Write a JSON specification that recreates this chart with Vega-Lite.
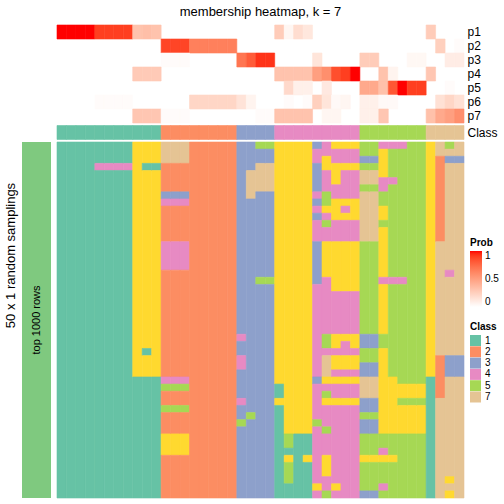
{
"$schema":"https://vega.github.io/schema/vega-lite/v6.json",
"background":"white",
"padding":{"left":4,"top":5,"right":0,"bottom":0},
"config":{"view":{"stroke":null},"font":"Liberation Sans","axis":{"labelColor":"black","titleColor":"black"},"legend":{"labelColor":"black","titleColor":"black"}},
"columns":2,
"spacing":{"row":2.5,"column":6},
"bounds":"flush",
"resolve":{"scale":{"color":"independent","stroke":"independent","x":"independent","y":"independent"},"legend":{"color":"independent","stroke":"independent"}},
"datasets":{
"prob":[
{"s":0,"p":"p1","v":1},{"s":1,"p":"p1","v":1},{"s":2,"p":"p1","v":1},{"s":3,"p":"p1","v":1},
{"s":4,"p":"p1","v":0.9},{"s":5,"p":"p1","v":0.9},{"s":6,"p":"p1","v":0.9},{"s":7,"p":"p1","v":0.9},
{"s":8,"p":"p1","v":0.32},{"s":9,"p":"p1","v":0.34},{"s":10,"p":"p1","v":0.32},
{"s":23,"p":"p1","v":0.27},{"s":24,"p":"p1","v":0.05},{"s":25,"p":"p1","v":0.18},{"s":26,"p":"p1","v":0.13},{"s":39,"p":"p1","v":0.27},
{"s":11,"p":"p2","v":0.88},{"s":12,"p":"p2","v":0.88},{"s":13,"p":"p2","v":0.88},
{"s":14,"p":"p2","v":0.65},{"s":15,"p":"p2","v":0.65},{"s":16,"p":"p2","v":0.65},{"s":17,"p":"p2","v":0.65},{"s":18,"p":"p2","v":0.65},
{"s":40,"p":"p2","v":0.25},{"s":42,"p":"p2","v":0.02},
{"s":11,"p":"p3","v":0.02},{"s":12,"p":"p3","v":0.02},{"s":13,"p":"p3","v":0.02},
{"s":19,"p":"p3","v":0.7},{"s":20,"p":"p3","v":0.8},{"s":21,"p":"p3","v":0.93},{"s":22,"p":"p3","v":0.93},
{"s":27,"p":"p3","v":0.14},{"s":32,"p":"p3","v":0.27},{"s":33,"p":"p3","v":0.27},{"s":37,"p":"p3","v":0.04},{"s":38,"p":"p3","v":0.04},
{"s":41,"p":"p3","v":0.1},{"s":42,"p":"p3","v":0.1},
{"s":8,"p":"p4","v":0.28},{"s":9,"p":"p4","v":0.28},{"s":10,"p":"p4","v":0.28},
{"s":23,"p":"p4","v":0.32},{"s":24,"p":"p4","v":0.32},{"s":25,"p":"p4","v":0.32},{"s":26,"p":"p4","v":0.32},
{"s":27,"p":"p4","v":0.5},{"s":28,"p":"p4","v":0.58},{"s":29,"p":"p4","v":0.85},{"s":30,"p":"p4","v":0.9},{"s":31,"p":"p4","v":1},
{"s":34,"p":"p4","v":0.32},{"s":35,"p":"p4","v":0.06},{"s":39,"p":"p4","v":0.3},
{"s":24,"p":"p5","v":0.2},{"s":25,"p":"p5","v":0.08},{"s":26,"p":"p5","v":0.08},{"s":28,"p":"p5","v":0.12},
{"s":32,"p":"p5","v":0.45},{"s":33,"p":"p5","v":0.45},{"s":34,"p":"p5","v":0.33},{"s":35,"p":"p5","v":0.82},{"s":36,"p":"p5","v":1},
{"s":37,"p":"p5","v":0.9},{"s":38,"p":"p5","v":0.9},{"s":41,"p":"p5","v":0.02},
{"s":4,"p":"p6","v":0.02},{"s":5,"p":"p6","v":0.02},{"s":6,"p":"p6","v":0.02},{"s":7,"p":"p6","v":0.02},
{"s":14,"p":"p6","v":0.22},{"s":15,"p":"p6","v":0.22},{"s":16,"p":"p6","v":0.22},{"s":17,"p":"p6","v":0.22},{"s":18,"p":"p6","v":0.22},
{"s":19,"p":"p6","v":0.15},{"s":20,"p":"p6","v":0.06},{"s":24,"p":"p6","v":0.02},{"s":26,"p":"p6","v":0.02},
{"s":27,"p":"p6","v":0.25},{"s":28,"p":"p6","v":0.14},{"s":29,"p":"p6","v":0.03},{"s":30,"p":"p6","v":0.05},
{"s":32,"p":"p6","v":0.08},{"s":33,"p":"p6","v":0.08},{"s":34,"p":"p6","v":0.03},{"s":35,"p":"p6","v":0.03},
{"s":40,"p":"p6","v":0.16},{"s":41,"p":"p6","v":0.22},{"s":42,"p":"p6","v":0.16},
{"s":8,"p":"p7","v":0.3},{"s":9,"p":"p7","v":0.3},{"s":10,"p":"p7","v":0.3},
{"s":11,"p":"p7","v":0.02},{"s":12,"p":"p7","v":0.02},{"s":13,"p":"p7","v":0.02},{"s":21,"p":"p7","v":0.02},{"s":22,"p":"p7","v":0.02},
{"s":23,"p":"p7","v":0.32},{"s":24,"p":"p7","v":0.32},{"s":25,"p":"p7","v":0.32},{"s":26,"p":"p7","v":0.32},
{"s":28,"p":"p7","v":0.05},{"s":29,"p":"p7","v":0.05},{"s":32,"p":"p7","v":0.08},{"s":33,"p":"p7","v":0.08},{"s":34,"p":"p7","v":0.3},
{"s":39,"p":"p7","v":0.33},{"s":40,"p":"p7","v":0.45},{"s":41,"p":"p7","v":0.5},{"s":42,"p":"p7","v":0.58}
],
"cls":[
{"s":0,"k":1},{"s":1,"k":1},{"s":2,"k":1},{"s":3,"k":1},{"s":4,"k":1},{"s":5,"k":1},{"s":6,"k":1},{"s":7,"k":1},{"s":8,"k":1},{"s":9,"k":1},{"s":10,"k":1},
{"s":11,"k":2},{"s":12,"k":2},{"s":13,"k":2},{"s":14,"k":2},{"s":15,"k":2},{"s":16,"k":2},{"s":17,"k":2},{"s":18,"k":2},
{"s":19,"k":3},{"s":20,"k":3},{"s":21,"k":3},{"s":22,"k":3},
{"s":23,"k":4},{"s":24,"k":4},{"s":25,"k":4},{"s":26,"k":4},{"s":27,"k":4},{"s":28,"k":4},{"s":29,"k":4},{"s":30,"k":4},{"s":31,"k":4},
{"s":32,"k":5},{"s":33,"k":5},{"s":34,"k":5},{"s":35,"k":5},{"s":36,"k":5},{"s":37,"k":5},{"s":38,"k":5},
{"s":39,"k":7},{"s":40,"k":7},{"s":41,"k":7},{"s":42,"k":7}
],
"main":[
{"s":0,"a":0,"b":50,"k":1},{"s":1,"a":0,"b":50,"k":1},{"s":2,"a":0,"b":50,"k":1},{"s":3,"a":0,"b":50,"k":1},
{"s":4,"a":0,"b":3,"k":1},{"s":4,"a":3,"b":4,"k":4},{"s":4,"a":4,"b":50,"k":1},
{"s":5,"a":0,"b":3,"k":1},{"s":5,"a":3,"b":4,"k":4},{"s":5,"a":4,"b":50,"k":1},
{"s":6,"a":0,"b":3,"k":1},{"s":6,"a":3,"b":4,"k":4},{"s":6,"a":4,"b":50,"k":1},
{"s":7,"a":0,"b":3,"k":1},{"s":7,"a":3,"b":4,"k":4},{"s":7,"a":4,"b":50,"k":1},
{"s":8,"a":0,"b":33,"k":6},{"s":8,"a":33,"b":50,"k":1},
{"s":9,"a":0,"b":3,"k":6},{"s":9,"a":3,"b":4,"k":1},{"s":9,"a":4,"b":29,"k":6},{"s":9,"a":29,"b":30,"k":1},{"s":9,"a":30,"b":33,"k":6},{"s":9,"a":33,"b":50,"k":1},
{"s":10,"a":0,"b":3,"k":6},{"s":10,"a":3,"b":4,"k":1},{"s":10,"a":4,"b":33,"k":6},{"s":10,"a":33,"b":50,"k":1},
{"s":11,"a":0,"b":3,"k":7},{"s":11,"a":3,"b":7,"k":2},{"s":11,"a":7,"b":8,"k":3},{"s":11,"a":8,"b":9,"k":4},{"s":11,"a":9,"b":14,"k":2},{"s":11,"a":14,"b":18,"k":4},{"s":11,"a":18,"b":33,"k":2},{"s":11,"a":33,"b":34,"k":4},{"s":11,"a":34,"b":35,"k":5},{"s":11,"a":35,"b":37,"k":2},{"s":11,"a":37,"b":38,"k":5},{"s":11,"a":38,"b":41,"k":2},{"s":11,"a":41,"b":44,"k":6},{"s":11,"a":44,"b":50,"k":2},
{"s":12,"a":0,"b":3,"k":7},{"s":12,"a":3,"b":7,"k":2},{"s":12,"a":7,"b":8,"k":3},{"s":12,"a":8,"b":9,"k":4},{"s":12,"a":9,"b":14,"k":2},{"s":12,"a":14,"b":18,"k":4},{"s":12,"a":18,"b":33,"k":2},{"s":12,"a":33,"b":34,"k":4},{"s":12,"a":34,"b":35,"k":5},{"s":12,"a":35,"b":37,"k":2},{"s":12,"a":37,"b":38,"k":5},{"s":12,"a":38,"b":41,"k":2},{"s":12,"a":41,"b":44,"k":6},{"s":12,"a":44,"b":50,"k":2},
{"s":13,"a":0,"b":3,"k":7},{"s":13,"a":3,"b":7,"k":2},{"s":13,"a":7,"b":8,"k":3},{"s":13,"a":8,"b":9,"k":4},{"s":13,"a":9,"b":14,"k":2},{"s":13,"a":14,"b":18,"k":4},{"s":13,"a":18,"b":33,"k":2},{"s":13,"a":33,"b":34,"k":4},{"s":13,"a":34,"b":35,"k":5},{"s":13,"a":35,"b":37,"k":2},{"s":13,"a":37,"b":38,"k":5},{"s":13,"a":38,"b":41,"k":2},{"s":13,"a":41,"b":44,"k":6},{"s":13,"a":44,"b":50,"k":2},
{"s":14,"a":0,"b":50,"k":2},{"s":15,"a":0,"b":50,"k":2},{"s":16,"a":0,"b":50,"k":2},{"s":17,"a":0,"b":50,"k":2},{"s":18,"a":0,"b":50,"k":2},
{"s":19,"a":0,"b":27,"k":3},{"s":19,"a":27,"b":28,"k":4},{"s":19,"a":28,"b":30,"k":3},{"s":19,"a":30,"b":32,"k":4},{"s":19,"a":32,"b":36,"k":3},{"s":19,"a":36,"b":37,"k":4},{"s":19,"a":37,"b":39,"k":3},{"s":19,"a":39,"b":40,"k":5},{"s":19,"a":40,"b":50,"k":3},
{"s":20,"a":0,"b":4,"k":3},{"s":20,"a":4,"b":8,"k":7},{"s":20,"a":8,"b":38,"k":3},{"s":20,"a":38,"b":39,"k":5},{"s":20,"a":39,"b":50,"k":3},
{"s":21,"a":0,"b":1,"k":5},{"s":21,"a":1,"b":3,"k":3},{"s":21,"a":3,"b":7,"k":7},{"s":21,"a":7,"b":19,"k":3},{"s":21,"a":19,"b":20,"k":5},{"s":21,"a":20,"b":50,"k":3},
{"s":22,"a":0,"b":1,"k":5},{"s":22,"a":1,"b":3,"k":3},{"s":22,"a":3,"b":7,"k":7},{"s":22,"a":7,"b":19,"k":3},{"s":22,"a":19,"b":20,"k":5},{"s":22,"a":20,"b":50,"k":3},
{"s":23,"a":0,"b":34,"k":6},{"s":23,"a":34,"b":36,"k":1},{"s":23,"a":36,"b":37,"k":6},{"s":23,"a":37,"b":50,"k":1},
{"s":24,"a":0,"b":41,"k":6},{"s":24,"a":41,"b":43,"k":5},{"s":24,"a":43,"b":44,"k":1},{"s":24,"a":44,"b":45,"k":6},{"s":24,"a":45,"b":48,"k":5},{"s":24,"a":48,"b":50,"k":1},
{"s":25,"a":0,"b":41,"k":6},{"s":25,"a":41,"b":50,"k":1},
{"s":26,"a":0,"b":41,"k":6},{"s":26,"a":41,"b":44,"k":1},{"s":26,"a":44,"b":45,"k":6},{"s":26,"a":45,"b":50,"k":1},
{"s":27,"a":0,"b":1,"k":3},{"s":27,"a":1,"b":3,"k":4},{"s":27,"a":3,"b":7,"k":3},{"s":27,"a":7,"b":8,"k":4},{"s":27,"a":8,"b":9,"k":3},{"s":27,"a":9,"b":10,"k":4},{"s":27,"a":10,"b":11,"k":3},{"s":27,"a":11,"b":14,"k":4},{"s":27,"a":14,"b":20,"k":3},{"s":27,"a":20,"b":33,"k":4},{"s":27,"a":33,"b":34,"k":3},{"s":27,"a":34,"b":39,"k":4},{"s":27,"a":39,"b":40,"k":5},{"s":27,"a":40,"b":48,"k":4},{"s":27,"a":48,"b":49,"k":6},{"s":27,"a":49,"b":50,"k":4},
{"s":28,"a":0,"b":2,"k":4},{"s":28,"a":2,"b":4,"k":6},{"s":28,"a":4,"b":7,"k":4},{"s":28,"a":7,"b":9,"k":5},{"s":28,"a":9,"b":10,"k":6},{"s":28,"a":10,"b":11,"k":4},{"s":28,"a":11,"b":12,"k":5},{"s":28,"a":12,"b":14,"k":4},{"s":28,"a":14,"b":19,"k":6},{"s":28,"a":19,"b":27,"k":4},{"s":28,"a":27,"b":29,"k":5},{"s":28,"a":29,"b":30,"k":4},{"s":28,"a":30,"b":33,"k":7},{"s":28,"a":33,"b":34,"k":6},{"s":28,"a":34,"b":35,"k":4},{"s":28,"a":35,"b":36,"k":5},{"s":28,"a":36,"b":37,"k":6},{"s":28,"a":37,"b":40,"k":4},{"s":28,"a":40,"b":41,"k":5},{"s":28,"a":41,"b":44,"k":4},{"s":28,"a":44,"b":47,"k":6},{"s":28,"a":47,"b":49,"k":4},{"s":28,"a":49,"b":50,"k":5},
{"s":29,"a":0,"b":1,"k":6},{"s":29,"a":1,"b":3,"k":4},{"s":29,"a":3,"b":6,"k":6},{"s":29,"a":6,"b":8,"k":4},{"s":29,"a":8,"b":11,"k":6},{"s":29,"a":11,"b":14,"k":4},{"s":29,"a":14,"b":21,"k":6},{"s":29,"a":21,"b":27,"k":4},{"s":29,"a":27,"b":29,"k":6},{"s":29,"a":29,"b":30,"k":4},{"s":29,"a":30,"b":32,"k":6},{"s":29,"a":32,"b":33,"k":4},{"s":29,"a":33,"b":34,"k":6},{"s":29,"a":34,"b":36,"k":4},{"s":29,"a":36,"b":37,"k":6},{"s":29,"a":37,"b":48,"k":4},{"s":29,"a":48,"b":49,"k":6},{"s":29,"a":49,"b":50,"k":4},
{"s":30,"a":0,"b":1,"k":6},{"s":30,"a":1,"b":3,"k":4},{"s":30,"a":3,"b":4,"k":6},{"s":30,"a":4,"b":8,"k":4},{"s":30,"a":8,"b":9,"k":6},{"s":30,"a":9,"b":10,"k":4},{"s":30,"a":10,"b":11,"k":6},{"s":30,"a":11,"b":14,"k":4},{"s":30,"a":14,"b":21,"k":6},{"s":30,"a":21,"b":27,"k":4},{"s":30,"a":27,"b":28,"k":6},{"s":30,"a":28,"b":30,"k":4},{"s":30,"a":30,"b":32,"k":6},{"s":30,"a":32,"b":33,"k":4},{"s":30,"a":33,"b":34,"k":6},{"s":30,"a":34,"b":36,"k":4},{"s":30,"a":36,"b":37,"k":6},{"s":30,"a":37,"b":50,"k":4},
{"s":31,"a":0,"b":1,"k":6},{"s":31,"a":1,"b":3,"k":4},{"s":31,"a":3,"b":4,"k":6},{"s":31,"a":4,"b":8,"k":4},{"s":31,"a":8,"b":11,"k":6},{"s":31,"a":11,"b":14,"k":4},{"s":31,"a":14,"b":21,"k":6},{"s":31,"a":21,"b":27,"k":4},{"s":31,"a":27,"b":29,"k":6},{"s":31,"a":29,"b":30,"k":4},{"s":31,"a":30,"b":32,"k":6},{"s":31,"a":32,"b":33,"k":4},{"s":31,"a":33,"b":34,"k":6},{"s":31,"a":34,"b":36,"k":4},{"s":31,"a":36,"b":37,"k":6},{"s":31,"a":37,"b":50,"k":4},
{"s":32,"a":0,"b":2,"k":5},{"s":32,"a":2,"b":3,"k":3},{"s":32,"a":3,"b":4,"k":5},{"s":32,"a":4,"b":6,"k":7},{"s":32,"a":6,"b":7,"k":5},{"s":32,"a":7,"b":14,"k":7},{"s":32,"a":14,"b":27,"k":5},{"s":32,"a":27,"b":29,"k":3},{"s":32,"a":29,"b":31,"k":5},{"s":32,"a":31,"b":33,"k":3},{"s":32,"a":33,"b":36,"k":7},{"s":32,"a":36,"b":38,"k":3},{"s":32,"a":38,"b":39,"k":5},{"s":32,"a":39,"b":41,"k":3},{"s":32,"a":41,"b":44,"k":5},{"s":32,"a":44,"b":45,"k":6},{"s":32,"a":45,"b":49,"k":5},{"s":32,"a":49,"b":50,"k":3},
{"s":33,"a":0,"b":2,"k":5},{"s":33,"a":2,"b":3,"k":3},{"s":33,"a":3,"b":4,"k":5},{"s":33,"a":4,"b":6,"k":7},{"s":33,"a":6,"b":7,"k":5},{"s":33,"a":7,"b":14,"k":7},{"s":33,"a":14,"b":27,"k":5},{"s":33,"a":27,"b":29,"k":3},{"s":33,"a":29,"b":31,"k":5},{"s":33,"a":31,"b":33,"k":3},{"s":33,"a":33,"b":36,"k":7},{"s":33,"a":36,"b":38,"k":3},{"s":33,"a":38,"b":39,"k":5},{"s":33,"a":39,"b":41,"k":3},{"s":33,"a":41,"b":44,"k":5},{"s":33,"a":44,"b":45,"k":6},{"s":33,"a":45,"b":49,"k":5},{"s":33,"a":49,"b":50,"k":3},
{"s":34,"a":0,"b":1,"k":4},{"s":34,"a":1,"b":5,"k":6},{"s":34,"a":5,"b":7,"k":4},{"s":34,"a":7,"b":9,"k":5},{"s":34,"a":9,"b":11,"k":6},{"s":34,"a":11,"b":12,"k":5},{"s":34,"a":12,"b":19,"k":6},{"s":34,"a":19,"b":20,"k":4},{"s":34,"a":20,"b":27,"k":6},{"s":34,"a":27,"b":29,"k":5},{"s":34,"a":29,"b":41,"k":6},{"s":34,"a":41,"b":43,"k":5},{"s":34,"a":43,"b":44,"k":4},{"s":34,"a":44,"b":45,"k":6},{"s":34,"a":45,"b":48,"k":5},{"s":34,"a":48,"b":49,"k":4},{"s":34,"a":49,"b":50,"k":5},
{"s":35,"a":0,"b":1,"k":4},{"s":35,"a":1,"b":5,"k":5},{"s":35,"a":5,"b":6,"k":4},{"s":35,"a":6,"b":19,"k":5},{"s":35,"a":19,"b":20,"k":4},{"s":35,"a":20,"b":33,"k":5},{"s":35,"a":33,"b":41,"k":6},{"s":35,"a":41,"b":44,"k":5},{"s":35,"a":44,"b":45,"k":6},{"s":35,"a":45,"b":50,"k":5},
{"s":36,"a":0,"b":1,"k":4},{"s":36,"a":1,"b":19,"k":5},{"s":36,"a":19,"b":20,"k":4},{"s":36,"a":20,"b":34,"k":5},{"s":36,"a":34,"b":36,"k":6},{"s":36,"a":36,"b":37,"k":5},{"s":36,"a":37,"b":41,"k":6},{"s":36,"a":41,"b":50,"k":5},
{"s":37,"a":0,"b":34,"k":5},{"s":37,"a":34,"b":36,"k":6},{"s":37,"a":36,"b":37,"k":5},{"s":37,"a":37,"b":41,"k":6},{"s":37,"a":41,"b":50,"k":5},
{"s":38,"a":0,"b":34,"k":5},{"s":38,"a":34,"b":36,"k":6},{"s":38,"a":36,"b":37,"k":5},{"s":38,"a":37,"b":41,"k":6},{"s":38,"a":41,"b":50,"k":5},
{"s":39,"a":0,"b":33,"k":6},{"s":39,"a":33,"b":50,"k":1},
{"s":40,"a":0,"b":2,"k":7},{"s":40,"a":2,"b":14,"k":2},{"s":40,"a":14,"b":30,"k":7},{"s":40,"a":30,"b":36,"k":2},{"s":40,"a":36,"b":50,"k":7},
{"s":41,"a":0,"b":1,"k":5},{"s":41,"a":1,"b":2,"k":7},{"s":41,"a":2,"b":3,"k":3},{"s":41,"a":3,"b":18,"k":7},{"s":41,"a":18,"b":19,"k":4},{"s":41,"a":19,"b":30,"k":7},{"s":41,"a":30,"b":33,"k":3},{"s":41,"a":33,"b":47,"k":7},{"s":41,"a":47,"b":48,"k":6},{"s":41,"a":48,"b":49,"k":7},{"s":41,"a":49,"b":50,"k":6},
{"s":42,"a":0,"b":2,"k":7},{"s":42,"a":2,"b":3,"k":3},{"s":42,"a":3,"b":30,"k":7},{"s":42,"a":30,"b":33,"k":3},{"s":42,"a":33,"b":50,"k":7}
]
},
"concat":[
{"width":29,"height":98,
 "data":{"name":"prob"},
 "mark":{"type":"point","size":0,"filled":true,"opacity":1},
 "encoding":{
  "color":{"field":"v","type":"quantitative","scale":{"domain":[0,1],"range":["#ffffff","#ff0000"],"interpolate":"lab"},
   "legend":{"type":"gradient","title":"Prob","orient":"none","legendX":448,"legendY":213,"direction":"vertical","gradientLength":56,"gradientThickness":12,"gradientOpacity":1,"values":[0,0.5,1],"format":"~g","titleFontSize":10,"labelFontSize":10,"titleFontWeight":"bold","titlePadding":3,"labelOffset":3,"gradientStrokeWidth":0}}
 }
},
{"width":407,"height":98,
 "title":{"text":"membership heatmap, k = 7","fontSize":13,"fontWeight":"normal","anchor":"middle","offset":6,"color":"black"},
 "data":{"name":"prob"},
 "mark":{"type":"rect","strokeWidth":0.6},
 "encoding":{
  "x":{"field":"s","type":"ordinal","scale":{"domain":[0,1,2,3,4,5,6,7,8,9,10,11,12,13,14,15,16,17,18,19,20,21,22,23,24,25,26,27,28,29,30,31,32,33,34,35,36,37,38,39,40,41,42],"paddingInner":0,"paddingOuter":0},"axis":null},
  "y":{"field":"p","type":"nominal","scale":{"domain":["p1","p2","p3","p4","p5","p6","p7"],"paddingInner":0,"paddingOuter":0},"axis":{"orient":"right","title":null,"ticks":false,"domain":false,"labelFontSize":12,"labelPadding":3}},
  "color":{"field":"v","type":"quantitative","scale":{"domain":[0,1],"range":["#ffffff","#ff0000"],"interpolate":"lab"},"legend":null},
  "stroke":{"field":"v","type":"quantitative","scale":{"domain":[0,1],"range":["#ffffff","#ff0000"],"interpolate":"lab"},"legend":null}
 }
},
{"width":29,"height":14,"data":{"values":[{"z":1}]},"mark":{"type":"rect","opacity":0},"encoding":{}},
{"width":407,"height":14,
 "data":{"name":"cls"},
 "mark":{"type":"rect","strokeWidth":0.6},
 "encoding":{
  "x":{"field":"s","type":"ordinal","scale":{"domain":[0,1,2,3,4,5,6,7,8,9,10,11,12,13,14,15,16,17,18,19,20,21,22,23,24,25,26,27,28,29,30,31,32,33,34,35,36,37,38,39,40,41,42],"paddingInner":0,"paddingOuter":0},"axis":null},
  "y":{"datum":"Class","type":"nominal","scale":{"paddingInner":0,"paddingOuter":0},"axis":{"orient":"right","title":null,"ticks":false,"domain":false,"labelFontSize":12,"labelPadding":3}},
  "color":{"field":"k","type":"nominal","scale":{"domain":[1,2,3,4,5,6,7],"range":["#66C2A5","#FC8D62","#8DA0CB","#E78AC3","#A6D854","#FFD92F","#E5C494"]},"legend":null},
  "stroke":{"field":"k","type":"nominal","scale":{"domain":[1,2,3,4,5,6,7],"range":["#66C2A5","#FC8D62","#8DA0CB","#E78AC3","#A6D854","#FFD92F","#E5C494"]},"legend":null}
 }
},
{"width":29,"height":356,
 "data":{"values":[{"g":"top 1000 rows"}]},
 "encoding":{
  "x":{"field":"g","type":"nominal","axis":null,"scale":{"paddingInner":0,"paddingOuter":0}},
  "y":{"field":"g","type":"nominal","scale":{"paddingInner":0,"paddingOuter":0},"axis":{"title":"50 x 1 random samplings","labels":false,"ticks":false,"domain":false,"titleFontSize":13,"titleFontWeight":"normal","titlePadding":5,"titleY":113}}
 },
 "layer":[
  {"mark":{"type":"rect","color":"#7FC97F"}},
  {"mark":{"type":"text","angle":270,"fontSize":11,"color":"black"},"encoding":{"text":{"field":"g"}}}
 ]
},
{"width":407,"height":356,
 "data":{"name":"main"},
 "mark":{"type":"rect","strokeWidth":0.6},
 "encoding":{
  "x":{"field":"s","type":"ordinal","scale":{"domain":[0,1,2,3,4,5,6,7,8,9,10,11,12,13,14,15,16,17,18,19,20,21,22,23,24,25,26,27,28,29,30,31,32,33,34,35,36,37,38,39,40,41,42],"paddingInner":0,"paddingOuter":0},"axis":null},
  "y":{"field":"a","type":"quantitative","scale":{"domain":[0,50],"reverse":true,"nice":false,"zero":false},"axis":null},
  "y2":{"field":"b"},
  "color":{"field":"k","type":"nominal","scale":{"domain":[1,2,3,4,5,6,7],"range":["#66C2A5","#FC8D62","#8DA0CB","#E78AC3","#A6D854","#FFD92F","#E5C494"]},
   "legend":{"title":"Class","orient":"none","legendX":413,"legendY":180,"values":[1,2,3,4,5,7],"symbolType":"square","symbolSize":121,"symbolStrokeWidth":0,"symbolOpacity":1,"titleFontSize":10,"labelFontSize":10,"titleFontWeight":"bold","titlePadding":3,"rowPadding":0.3,"labelOffset":4}},
  "stroke":{"field":"k","type":"nominal","scale":{"domain":[1,2,3,4,5,6,7],"range":["#66C2A5","#FC8D62","#8DA0CB","#E78AC3","#A6D854","#FFD92F","#E5C494"]},"legend":null}
 }
}
]
}
